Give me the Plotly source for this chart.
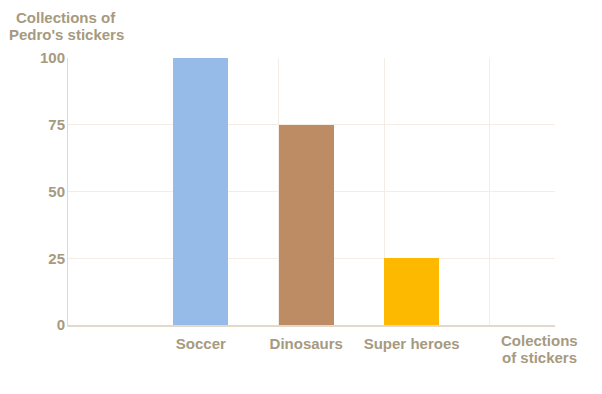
import plotly.graph_objects as go

categories = ["Soccer", "Dinosaurs", "Super heroes"]
values = [100, 75, 25]
colors = ["#97bbe8", "#bd8b64", "#fdb900"]
slots = [1, 2, 3]
y_ticks = [0, 25, 50, 75, 100]
y_title_lines = ["Collections of", "Pedro's stickers"]
x_title_lines = ["Colections", "of stickers"]

txt = "#a69a80"
fam = "Liberation Sans, Arial, sans-serif"
font = dict(family=fam, size=15, color=txt)
bw = 0.52

fig = go.Figure()
fig.add_trace(go.Bar(x=slots, y=values, width=bw, offset=0,
                     marker=dict(color=colors, line=dict(width=0)),
                     showlegend=False, hoverinfo="skip"))

L, R, T, B = 68, 47, 58, 69
W, H = 602, 394
pw = W - L - R
ph = H - T - B
fig.update_layout(
    width=W, height=H,
    margin=dict(l=L, r=R, t=T, b=B, autoexpand=False),
    paper_bgcolor="white", plot_bgcolor="white",
    font=font,
    bargap=0,
    xaxis=dict(range=[0, 4.62], tickmode="array",
               tickvals=[s + bw / 2 for s in slots], ticktext=categories,
               showgrid=False, zeroline=False, automargin=False,
               showline=True, linecolor="#e3d9ca", linewidth=2,
               ticks="", ticklabelstandoff=4,
               tickfont=dict(family=fam, size=15, color=txt, weight="bold"),
               minor=dict(tickmode="linear", tick0=0, dtick=1, showgrid=True,
                          gridcolor="#f3ede4", gridwidth=1, ticklen=0)),
    yaxis=dict(range=[0, 100], tickvals=y_ticks, showgrid=True,
               gridcolor="#f3ede4", gridwidth=1, zeroline=False, automargin=False,
               showline=True, linecolor="#e3d9ca", linewidth=1,
               ticks="", ticklabelstandoff=-1,
               tickfont=dict(family=fam, size=15, color=txt, weight="bold")),
)

def py(ypx):
    return ((H - B) - ypx) / ph

for line, ypx in zip(y_title_lines, [17, 34]):
    fig.add_annotation(text="<b>%s</b>" % line, xref="paper", yref="paper",
                       x=(66 - L) / pw, y=py(ypx), xanchor="center", yanchor="middle",
                       showarrow=False, font=font)

for line, ypx in zip(x_title_lines, [340, 357]):
    fig.add_annotation(text="<b>%s</b>" % line, xref="paper", yref="paper",
                       x=(539 - L) / pw, y=py(ypx), xanchor="center", yanchor="middle",
                       showarrow=False, font=font)

fig.write_html("out.html", config={"displayModeBar": False},
               post_script="document.body.style.margin='0';")
